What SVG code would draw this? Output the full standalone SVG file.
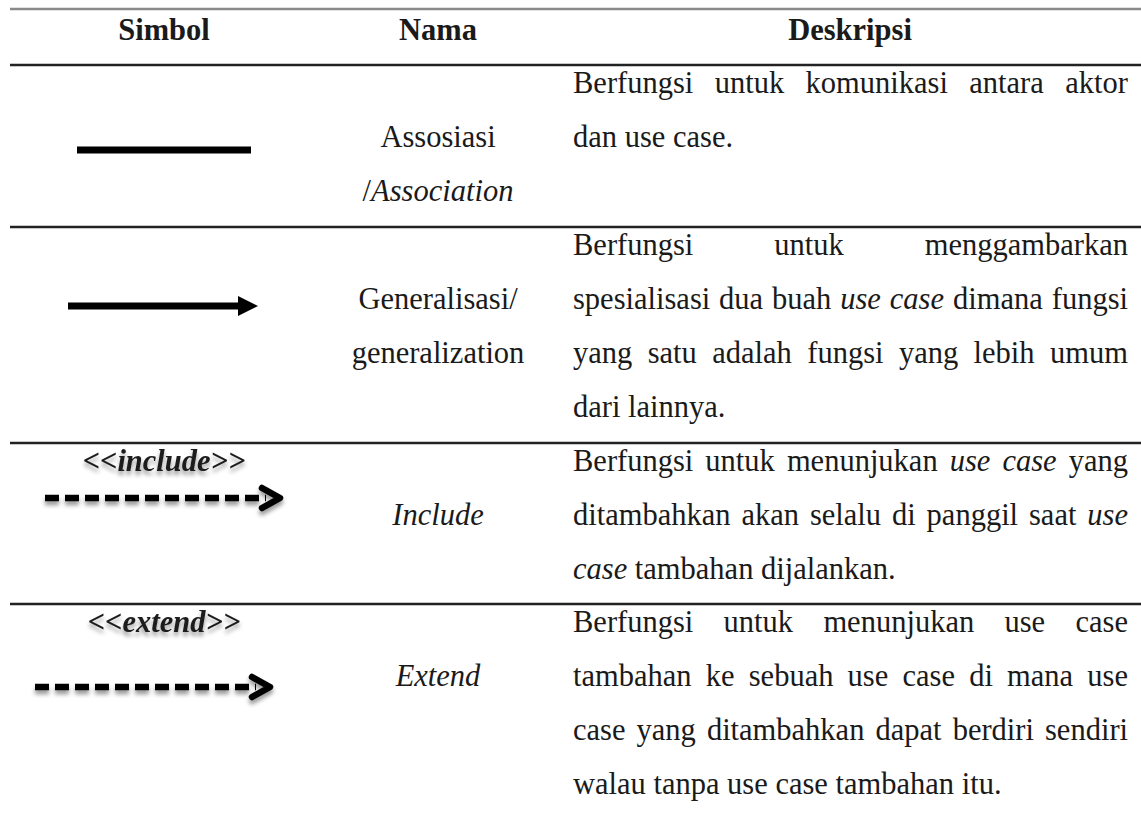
<svg xmlns="http://www.w3.org/2000/svg" width="1141" height="816" viewBox="0 0 1141 816">
<style>
text{font-family:"Liberation Serif","Times New Roman",serif;font-size:30.5px;fill:#1a1a1a}
.h{font-weight:bold;text-anchor:middle}
.c{text-anchor:middle}
.i{font-style:italic}
.bi{font-weight:bold;font-style:italic;text-anchor:middle}
.rule{stroke:#222;stroke-width:2.5}
.sym{stroke:#000;stroke-width:7;fill:none}
.dash{stroke:#000;stroke-width:6.5;fill:none;stroke-dasharray:14 6}
.chev{stroke:#000;stroke-width:6.5;fill:none;stroke-linecap:round;stroke-linejoin:round}
</style>
<defs>
<filter id="sh" x="-10%" y="-60%" width="120%" height="220%">
<feDropShadow dx="0" dy="4" stdDeviation="2.2" flood-color="#000" flood-opacity="0.4"/>
</filter>
</defs>
<rect width="1141" height="816" fill="#fff"/>

<g id="rules">
<line x1="10" y1="9" x2="1141" y2="9" stroke="#8a8a8a" stroke-width="2.5"/>
<line class="rule" x1="10" y1="65" x2="1141" y2="65" stroke-width="3"/>
<line class="rule" x1="10" y1="227" x2="1141" y2="227"/>
<line class="rule" x1="10" y1="443" x2="1141" y2="443"/>
<line class="rule" x1="10" y1="604" x2="1141" y2="604"/>
</g>

<g id="header">
<text class="h" x="164" y="40">Simbol</text>
<text class="h" x="438" y="40">Nama</text>
<text class="h" x="850" y="40">Deskripsi</text>
</g>

<g id="connectors">
<line id="sym-association" class="sym" x1="77" y1="150" x2="251" y2="150"/>
<g id="sym-generalization">
<line class="sym" x1="68" y1="306" x2="241" y2="306"/>
<path d="M238,296 L258,306 L238,316 z" fill="#000"/>
</g>
<g id="sym-include" filter="url(#sh)">
<line class="dash" x1="45" y1="498" x2="266" y2="498"/>
<polyline class="chev" points="262,488 280,498 262,508"/>
</g>
<g id="sym-extend" filter="url(#sh)">
<line class="dash" x1="35" y1="687" x2="256" y2="687"/>
<polyline class="chev" points="252,677 270,687 252,697"/>
</g>
</g>

<g id="row-association">
<text class="c" x="438" y="147">Assosiasi</text>
<text class="c" x="438" y="201">/<tspan class="i">Association</tspan></text>
<text y="93"><tspan x="573">Berfungsi</tspan><tspan x="714.7">untuk</tspan><tspan x="805.6">komunikasi</tspan><tspan x="969.3">antara</tspan><tspan x="1065.2">aktor</tspan></text>
<text x="573" y="147">dan use case.</text>
</g>

<g id="row-generalization">
<text class="c" x="438" y="309">Generalisasi/</text>
<text class="c" x="438" y="363">generalization</text>
<text y="255"><tspan x="573">Berfungsi</tspan><tspan x="774.25">untuk</tspan><tspan x="924.7">menggambarkan</tspan></text>
<text y="309"><tspan x="573">spesialisasi</tspan><tspan x="718.96">dua</tspan><tspan x="771.92">buah</tspan><tspan x="840.18" class="i">use</tspan><tspan x="889.84" class="i">case</tspan><tspan x="953">dimana</tspan><tspan x="1051.76">fungsi</tspan></text>
<text y="363"><tspan x="573">yang</tspan><tspan x="647.71">satu</tspan><tspan x="712.22">adalah</tspan><tspan x="807.23">fungsi</tspan><tspan x="898.89">yang</tspan><tspan x="973.6">lebih</tspan><tspan x="1050.01">umum</tspan></text>
<text x="573" y="417">dari lainnya.</text>
</g>

<g id="row-include">
<text class="bi" x="164" y="471" filter="url(#sh)">&lt;&lt;include&gt;&gt;</text>
<text class="c i" x="438" y="525">Include</text>
<text y="471"><tspan x="573">Berfungsi</tspan><tspan x="705.34">untuk</tspan><tspan x="786.88">menunjukan</tspan><tspan x="949.72" class="i">use</tspan><tspan x="1002.46" class="i">case</tspan><tspan x="1068.7">yang</tspan></text>
<text y="525"><tspan x="573">ditambahkan</tspan><tspan x="741.48">akan</tspan><tspan x="809.96">selalu</tspan><tspan x="892.04">di</tspan><tspan x="926.62">panggil</tspan><tspan x="1029">saat</tspan><tspan x="1087.28" class="i">use</tspan></text>
<text x="573" y="579"><tspan class="i">case</tspan> tambahan dijalankan.</text>
</g>

<g id="row-extend">
<text class="bi" x="164" y="632" filter="url(#sh)">&lt;&lt;extend&gt;&gt;</text>
<text class="c i" x="438" y="686">Extend</text>
<text y="632"><tspan x="573">Berfungsi</tspan><tspan x="723.6">untuk</tspan><tspan x="823.4">menunjukan</tspan><tspan x="1004.5">use</tspan><tspan x="1075.5">case</tspan></text>
<text y="686"><tspan x="573">tambahan</tspan><tspan x="705.77">ke</tspan><tspan x="748.74">sebuah</tspan><tspan x="847.61">use</tspan><tspan x="902.48">case</tspan><tspan x="969.15">di</tspan><tspan x="1007.02">mana</tspan><tspan x="1087.29">use</tspan></text>
<text y="740"><tspan x="573">case</tspan><tspan x="636.54">yang</tspan><tspan x="706.88">ditambahkan</tspan><tspan x="875.52">dapat</tspan><tspan x="952.66">berdiri</tspan><tspan x="1045">sendiri</tspan></text>
<text x="573" y="794">walau tanpa use case tambahan itu.</text>
</g>
</svg>
